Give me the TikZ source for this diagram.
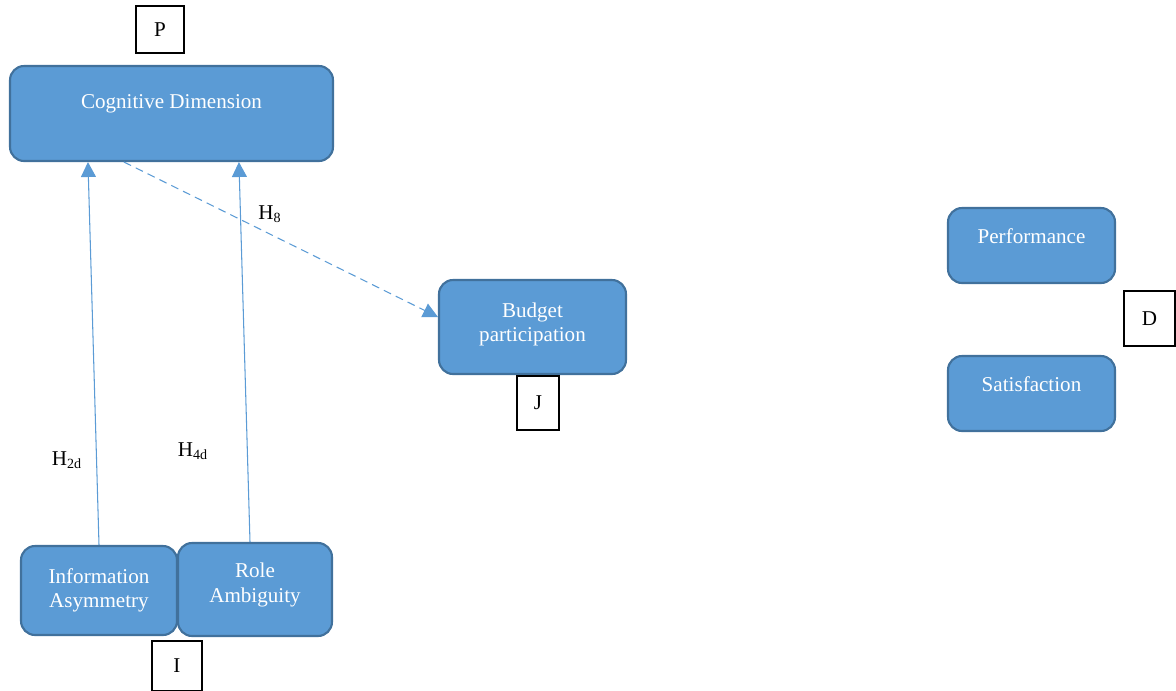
\documentclass[tikz,border=0pt]{standalone}
\usepackage{fontspec}
\setmainfont{Liberation Serif}
\usetikzlibrary{arrows.meta,positioning}
\definecolor{boxfill}{HTML}{5B9BD5}
\definecolor{boxline}{HTML}{41719C}

\begin{document}
\begin{tikzpicture}[x=0.02cm,y=-0.02cm,
        every node/.style={align=center,font=\fontsize{12}{13.8}\selectfont},
        construct/.style={shape=rectangle,rounded corners=0.28cm,draw=boxline,line width=1.2pt,fill=boxfill,text=white},
        tag/.style={shape=rectangle,draw=black,line width=0.8pt,fill=white,inner sep=0},
        link/.style={draw=boxfill,line width=0.6pt,-{Triangle[width=8.5pt,length=8.5pt,fill=boxfill]}},
        ]
\useasboundingbox (0,0) rectangle (1176,690);

% constructs
\node [construct, minimum width=6.46cm, minimum height=1.9cm] (cog) at (171.5,113.5) {Cognitive Dimension\\ \mbox{}};
\node [construct, minimum width=3.74cm, minimum height=1.88cm] (budget) at (532.5,327) {Budget\\participation\\[-8pt]\mbox{}};
\node [construct, minimum width=3.34cm, minimum height=1.5cm] (perf) at (1031.5,245.5) {Performance\\[-3pt]\mbox{}};
\node [construct, minimum width=3.34cm, minimum height=1.5cm] (satis) at (1031.5,393.5) {Satisfaction\\[-3pt]\mbox{}};
\node [construct, minimum width=3.12cm, minimum height=1.78cm] (infoasym) at (99,590.5) {Information\\Asymmetry};
\node [construct, minimum width=3.08cm, minimum height=1.86cm] (role) at (255,589.5) {Role\\Ambiguity\\[-6pt]\mbox{}};

% tags
\node [tag, minimum width=0.96cm, minimum height=0.94cm] (tagP) at (160,29.5) {P};
\node [tag, minimum width=0.84cm, minimum height=1.08cm] (tagJ) at (538,403) {J};
\node [tag, minimum width=1.0cm, minimum height=1.0cm] (tagI) at (177,666) {I};
\node [tag, minimum width=1.02cm, minimum height=1.1cm] (tagD) at (1149.5,318.5) {D};

% hypotheses
\node (h2d) at (67,460) {H\textsubscript{2d}};
\node (h4d) at (193,451) {H\textsubscript{4d}};
\node (h8) at (270,214) {H\textsubscript{8}};

\draw[link] (infoasym.north) -- ([xshift=1.58cm]cog.south west);
\draw[link] ([xshift=-0.1cm]role.north) -- ([xshift=4.6cm]cog.south west);
\draw[link,dash pattern=on 4.5pt off 3pt] ([xshift=2.3cm]cog.south west) -- ([yshift=0.2cm]budget.west);

\end{tikzpicture}
\end{document}
